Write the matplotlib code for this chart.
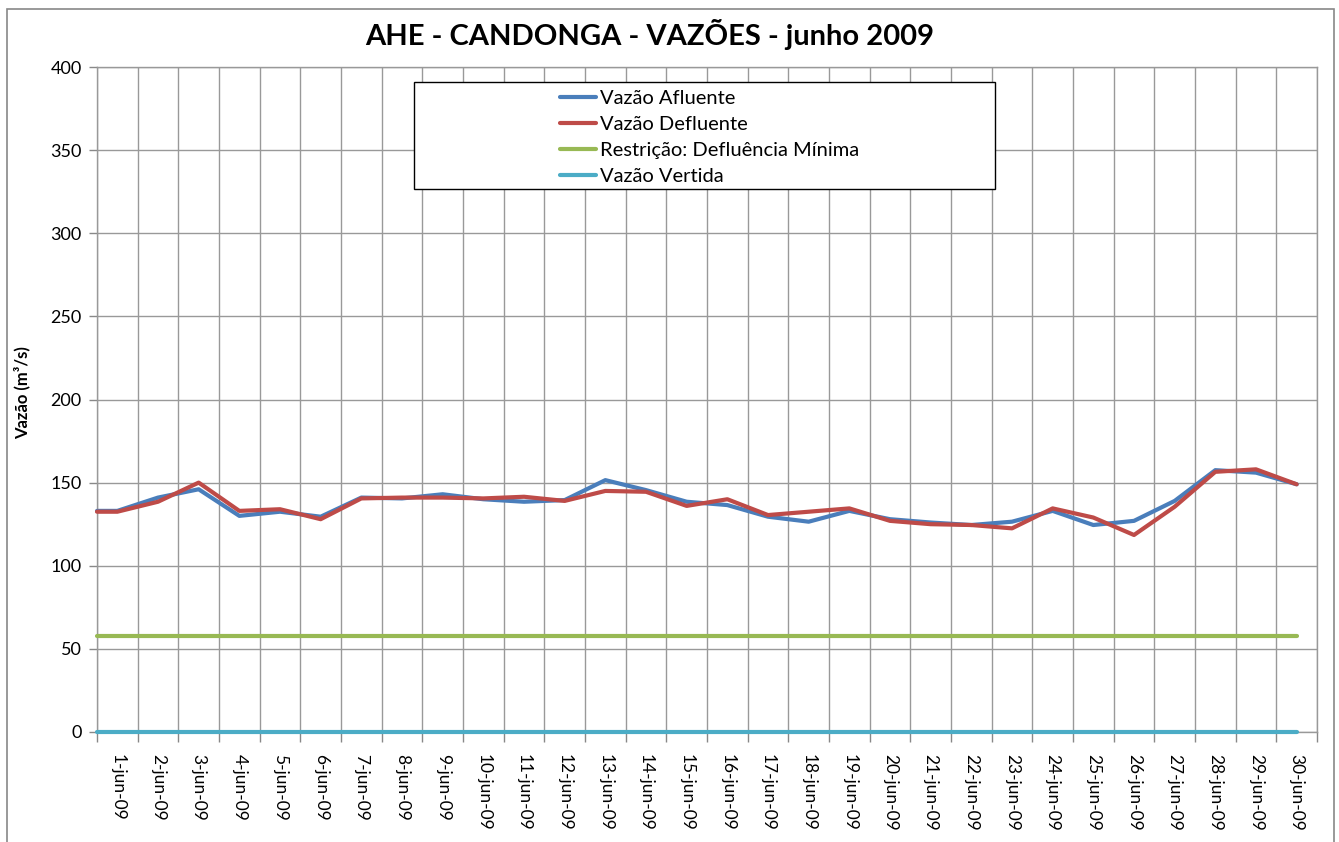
import numpy as np
import matplotlib
matplotlib.use("Agg")
import matplotlib.pyplot as plt
from matplotlib.lines import Line2D
from matplotlib.patches import Rectangle

plt.rcParams["font.family"] = ["Lato", "DejaVu Sans"]

# data
days = [f"{d}-jun-09" for d in range(1, 31)]

vazao_afluente = [133, 141, 146, 130, 132.5, 129.5, 141, 140.5, 143, 140,
                  138.5, 139.5, 151.5, 145.5, 138.5, 136.5, 129.5, 126.5, 133, 128,
                  126, 124.5, 126.5, 133, 124.5, 127, 139, 157.5, 156, 149]
vazao_defluente = [132.5, 138.5, 150, 133, 134, 128, 140.5, 141, 141, 140.5,
                   141.5, 139, 145, 144.5, 136, 140, 130.5, 132.5, 134.5, 127,
                   125, 124.5, 122.5, 134.5, 129, 118.5, 135.5, 156.5, 158, 149]
defluencia_minima = [58] * 30
vazao_vertida = [0] * 30

series = [
    ("Vazão Afluente", vazao_afluente, "#4A7EBB"),
    ("Vazão Defluente", vazao_defluente, "#BE4B48"),
    ("Restrição: Defluência Mínima", defluencia_minima, "#98B954"),
    ("Vazão Vertida", vazao_vertida, "#4BACC6"),
]

W, H = 1339, 842
fig = plt.figure(figsize=(W / 100, H / 100), dpi=100)

# outer chart border
fig.patches.append(Rectangle((7 / W, -0.05), (1334 - 7) / W, 1.05 - 9 / H,
                             transform=fig.transFigure, fill=False,
                             edgecolor="#888888", linewidth=1.2))

ax = fig.add_axes([97 / W, 1 - 732 / H, (1317 - 97) / W, (732 - 67) / H])

n = len(days)
x = np.arange(n)
# lines start at the value axis, as in the original sheet
x_line = np.concatenate([[-0.5], x])

handles = []
for name, vals, color in series:
    y_line = np.concatenate([[vals[0]], vals])
    ax.plot(x_line, y_line, color=color, linewidth=3, solid_capstyle="round",
            solid_joinstyle="round", zorder=3, clip_on=False)
    handles.append(Line2D([], [], color=color, linewidth=3,
                          solid_capstyle="round", label=name))

ax.set_xlim(-0.5, n - 0.5)
ax.set_ylim(0, 400)
ax.set_yticks(np.arange(0, 401, 50))
ax.set_xticks(x)
ax.set_xticklabels(days, rotation=-90, fontsize=12.5)
ax.set_xticks(np.arange(-0.5, n, 1.0), minor=True)
ax.tick_params(axis="x", which="major", length=0, pad=16)
ax.tick_params(axis="x", which="minor", length=7, color="#888888", width=1)
ax.tick_params(axis="y", length=6, color="#888888", width=1, labelsize=13,
               pad=5)

ax.grid(True, axis="y", color="#999999", linewidth=1)
ax.grid(True, axis="x", which="minor", color="#999999", linewidth=1)
for s in ax.spines.values():
    s.set_color("#999999")
    s.set_linewidth(1)

ax.set_ylabel("Vazão (m³/s)", fontsize=12, fontweight="bold")
ax.yaxis.set_label_coords((30 - 97) / 1220, 0.51)

fig.text(650 / W, 1 - 35 / H, "AHE - CANDONGA - VAZÕES - junho 2009",
         ha="center", va="center", fontsize=21, fontweight="bold")

# legend box
fig.patches.append(Rectangle((414 / W, 1 - 189 / H), (995 - 414) / W, (189 - 82) / H,
                             transform=fig.transFigure, facecolor="white",
                             edgecolor="black", linewidth=1, zorder=5))
leg = fig.legend(handles=handles, loc="upper left",
                 bbox_to_anchor=(552 / W, 1 - 82 / H), frameon=False,
                 fontsize=14.5, handlelength=1.8, handletextpad=0.2,
                 labelspacing=0.44, borderaxespad=0)
leg.set_zorder(6)

fig.savefig("out.png", dpi=100)
